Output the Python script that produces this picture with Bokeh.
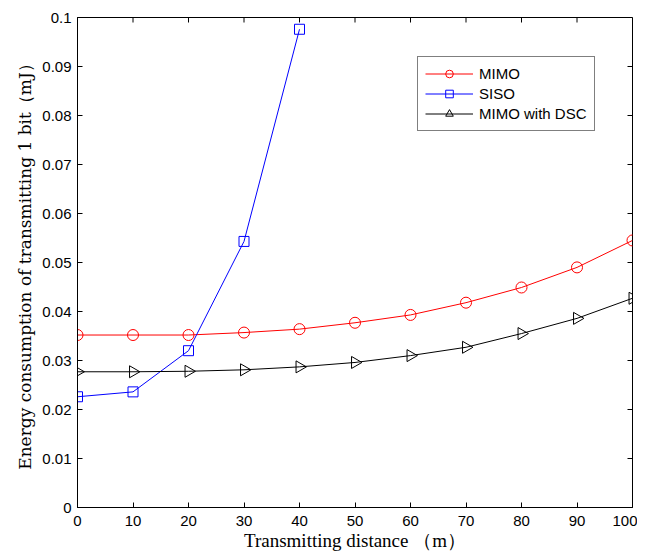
from bokeh.plotting import figure
from bokeh.models import FixedTicker, Range1d, Legend, LegendItem
from bokeh.embed import file_html
from bokeh.resources import INLINE
import math

distance = [0, 10, 20, 30, 40, 50, 60, 70, 80, 90, 100]
mimo = [0.0352, 0.0352, 0.0352, 0.0357, 0.0364, 0.0377, 0.0393, 0.0418, 0.0449, 0.0490, 0.0545]
siso_x = [0, 10, 20, 30, 40]
siso = [0.0226, 0.0236, 0.0320, 0.0543, 0.0976]
dsc = [0.0277, 0.0277, 0.0278, 0.0281, 0.0287, 0.0296, 0.0310, 0.0327, 0.0355, 0.0386, 0.0427]

x_ticks = [0, 10, 20, 30, 40, 50, 60, 70, 80, 90, 100]
y_ticks = [0, 0.01, 0.02, 0.03, 0.04, 0.05, 0.06, 0.07, 0.08, 0.09, 0.1]
y_tick_labels = ["0", "0.01", "0.02", "0.03", "0.04", "0.05", "0.06", "0.07", "0.08", "0.09", "0.1"]

X0, X1, Y0, Y1 = 0, 100, 0, 0.1
FW, FH = 555, 490

p = figure(width=637, height=557, output_backend="svg", toolbar_location=None,
           x_range=Range1d(X0, X1), y_range=Range1d(Y0, Y1),
           min_border_left=77, min_border_right=5, min_border_top=17, min_border_bottom=50,
           background_fill_color="white", border_fill_color="white")
p.frame_width = FW
p.frame_height = FH
p.grid.visible = False
p.outline_line_color = "black"

tick_font = "Liberation Sans"
for ax in [p.xaxis[0], p.yaxis[0]]:
    ax.major_tick_in = 5
    ax.major_tick_out = 0
    ax.minor_tick_in = 0
    ax.minor_tick_out = 0
    ax.axis_line_color = "black"
    ax.major_tick_line_color = "black"
    ax.major_label_text_font = tick_font
    ax.major_label_text_font_size = "15px"
    ax.major_label_text_color = "black"
    ax.axis_label_text_color = "black"

p.xaxis[0].ticker = FixedTicker(ticks=x_ticks)
p.yaxis[0].ticker = FixedTicker(ticks=y_ticks)
p.yaxis[0].major_label_overrides = {t: l for t, l in zip(y_ticks, y_tick_labels)}
p.xaxis[0].major_label_standoff = 8
p.yaxis[0].major_label_standoff = 6

p.xaxis[0].axis_label = "Transmitting distance （m）"
p.xaxis[0].axis_label_text_font = "Liberation Serif"
p.xaxis[0].axis_label_text_font_size = "19px"
p.xaxis[0].axis_label_text_font_style = "normal"
p.xaxis[0].axis_label_standoff = 1
p.yaxis[0].axis_label = "Energy consumption of transmitting 1 bit（mJ）"
p.yaxis[0].axis_label_text_font = "DejaVu Serif"
p.yaxis[0].axis_label_text_font_size = "17px"
p.yaxis[0].axis_label_text_font_style = "normal"
p.yaxis[0].axis_label_standoff = 4

# box ticks on top and right edges (5 px long, pointing inward)
tick_px = 5
dy = tick_px * (Y1 - Y0) / FH
dx = tick_px * (X1 - X0) / FW
p.segment(x0=x_ticks, y0=[Y1] * len(x_ticks), x1=x_ticks, y1=[Y1 - dy] * len(x_ticks),
          line_color="black", line_width=1)
p.segment(x0=[X1] * len(y_ticks), y0=y_ticks, x1=[X1 - dx] * len(y_ticks), y1=y_ticks,
          line_color="black", line_width=1)

r1 = p.line(distance, mimo, color="red", line_width=1)
m1 = p.scatter(distance, mimo, marker="circle", size=11, line_color="red",
               fill_color=None, line_width=1)
r2 = p.line(siso_x, siso, color="blue", line_width=1)
m2 = p.scatter(siso_x, siso, marker="square", size=10, line_color="blue",
               fill_color=None, line_width=1)
r3 = p.line(distance, dsc, color="black", line_width=1)
m3 = p.scatter(distance, dsc, marker="triangle", angle=-math.pi / 2, size=12,
               line_color="black", fill_color=None, line_width=1)

legend = Legend(items=[LegendItem(label="MIMO", renderers=[r1, m1]),
                       LegendItem(label="SISO", renderers=[r2, m2]),
                       LegendItem(label="MIMO with DSC", renderers=[r3, m3])],
                location=(340, 376))
legend.label_text_font = tick_font
legend.label_text_font_size = "15px"
legend.label_text_color = "black"
legend.glyph_width = 48
legend.glyph_height = 19
legend.label_height = 19
legend.spacing = 1
legend.padding = 7
legend.margin = 0
legend.label_standoff = 6
legend.border_line_color = "black"
legend.border_line_width = 1
legend.background_fill_alpha = 1
p.add_layout(legend, "center")

open("out.html", "w").write(file_html(p, INLINE))
